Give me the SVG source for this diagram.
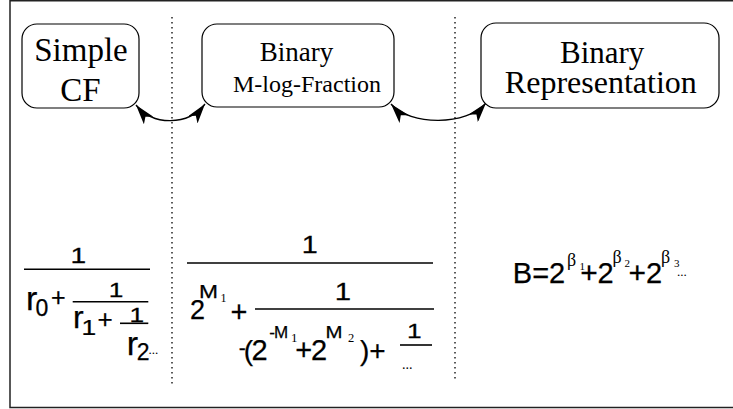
<svg xmlns="http://www.w3.org/2000/svg" width="733" height="409" viewBox="0 0 733 409">
<style>
.box{fill:#fff;stroke:#000;stroke-width:1.2}
.lbl{font-family:"Liberation Serif","Times New Roman",serif;fill:#000;text-anchor:middle}
.f{font-family:"Liberation Sans",Arial,sans-serif;fill:#000;stroke:#000;stroke-width:0.25}
.s{font-family:"Liberation Serif","Times New Roman",serif;fill:#000}
.bar{stroke:#000;stroke-width:1.6}
.dot{stroke:#000;stroke-width:1.3;stroke-dasharray:1.6 3.4;fill:none}
.con{fill:none;stroke:#000;stroke-width:1.4}
</style>
<defs>
<marker id="ah" viewBox="0 0 20 12" refX="20" refY="6" markerWidth="20" markerHeight="12" markerUnits="userSpaceOnUse" orient="auto-start-reverse">
<path d="M0,0 L20,6 L0,12 L5,6 z" fill="#000"/>
</marker>
</defs>
<rect x="10" y="0.75" width="740" height="406.75" fill="#fff" stroke="#222" stroke-width="1.5"/>
<g id="separators">
<line class="dot" x1="172" y1="17" x2="172" y2="385"/>
<line class="dot" x1="455" y1="17" x2="455" y2="382"/>
</g>
<g id="connectors">
<path class="con" d="M136,105 C153,126 188,126 205,104" marker-start="url(#ah)" marker-end="url(#ah)"/>
<path class="con" d="M391,104 C410,126 467,126 486,103" marker-start="url(#ah)" marker-end="url(#ah)"/>
</g>
<g id="simple-cf">
<rect class="box" x="22" y="24" width="117" height="84" rx="15" ry="15"/>
<text class="lbl" x="81" y="60.5" font-size="33">Simple</text>
<text class="lbl" x="80.5" y="101" font-size="33">CF</text>
</g>
<g id="binary-mlog">
<rect class="box" x="202" y="24" width="192" height="83" rx="15" ry="15"/>
<text class="lbl" x="296.5" y="60.5" font-size="27">Binary</text>
<text class="lbl" x="307" y="91.5" font-size="24">M-log-Fraction</text>
</g>
<g id="binary-rep">
<rect class="box" x="481" y="23" width="238" height="85" rx="15" ry="15"/>
<text class="lbl" x="602.2" y="63.3" font-size="31">Binary</text>
<text class="lbl" x="600.8" y="93.3" font-size="32">Representation</text>
</g>
<g id="formula-cf">
<text class="f" transform="translate(70.5,262.7) scale(1.25,1)" font-size="22.5">1</text>
<line class="bar" x1="24" y1="269.3" x2="150" y2="269.3"/>
<text class="f" x="26" y="310" font-size="34">r</text>
<text class="f" x="35.5" y="316" font-size="23">0</text>
<text class="f" x="51" y="306.3" font-size="25">+</text>
<text class="f" transform="translate(108.8,296.7) scale(1.25,1)" font-size="21">1</text>
<line class="bar" x1="72.7" y1="301.7" x2="148.3" y2="301.7"/>
<text class="f" x="72.9" y="328.3" font-size="32">r</text>
<text class="f" transform="translate(81.6,335) scale(1.2,1)" font-size="22">1</text>
<text class="f" x="97.5" y="328" font-size="26">+</text>
<text class="f" transform="translate(129.6,321.7) scale(1.25,1)" font-size="21">1</text>
<line class="bar" x1="120" y1="323.3" x2="148.3" y2="323.3"/>
<text class="f" x="126.7" y="355" font-size="34">r</text>
<text class="f" x="136.8" y="360" font-size="23">2</text>
<text class="s" x="148.5" y="354" font-size="13">...</text>
</g>
<g id="formula-mlog">
<text class="f" transform="translate(301.8,253) scale(1.25,1)" font-size="23">1</text>
<line class="bar" x1="187" y1="263" x2="433" y2="263"/>
<text class="f" x="190" y="319" font-size="27">2</text>
<text class="f" x="199" y="298" font-size="19" textLength="19" lengthAdjust="spacingAndGlyphs">M</text>
<text class="s" x="220.5" y="302" font-size="12">1</text>
<text class="f" x="230.6" y="322" font-size="29">+</text>
<text class="f" transform="translate(334.8,300) scale(1.25,1)" font-size="23.5">1</text>
<line class="bar" x1="255" y1="309" x2="434" y2="309"/>
<text class="f" x="238.8" y="355" font-size="21">-</text>
<text class="f" x="243.8" y="360" font-size="28">(</text>
<text class="f" x="251.6" y="360" font-size="29">2</text>
<text class="f" x="269.3" y="338.3" font-size="17" letter-spacing="-1">-M</text>
<text class="s" x="291" y="342" font-size="13">1</text>
<text class="f" x="295.3" y="359.8" font-size="29">+</text>
<text class="f" x="311" y="360" font-size="29">2</text>
<text class="f" x="325.4" y="338.3" font-size="17" textLength="17" lengthAdjust="spacingAndGlyphs">M</text>
<text class="s" x="348" y="341.7" font-size="12.5">2</text>
<text class="f" x="360" y="360" font-size="28">)+</text>
<text class="f" transform="translate(407.1,338.3) scale(1.25,1)" font-size="21">1</text>
<line class="bar" x1="400" y1="345" x2="432" y2="345"/>
<text class="s" x="402" y="369" font-size="14">...</text>
</g>
<g id="formula-binary">
<text class="f" x="512.8" y="283" font-size="29">B=2</text>
<text class="s" x="567" y="266" font-size="18">β</text>
<text class="s" x="579.5" y="270" font-size="11">1</text>
<text class="f" x="580.2" y="283" font-size="30">+</text>
<text class="f" x="597.5" y="283" font-size="29">2</text>
<text class="s" x="612.5" y="263" font-size="18">β</text>
<text class="s" x="624.5" y="266.7" font-size="11">2</text>
<text class="f" x="628.5" y="283" font-size="30">+</text>
<text class="f" x="646" y="283" font-size="29">2</text>
<text class="s" x="661" y="263" font-size="18">β</text>
<text class="s" x="674" y="267" font-size="11">3</text>
<text class="s" x="677" y="276" font-size="13">...</text>
</g>
</svg>
